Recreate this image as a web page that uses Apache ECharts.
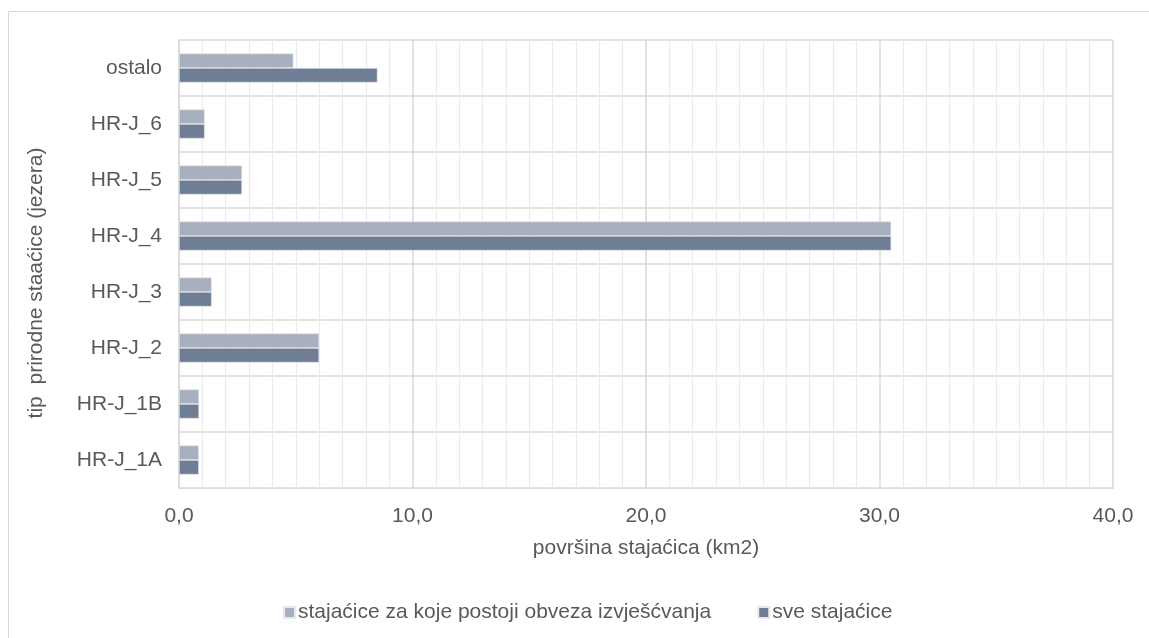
<!DOCTYPE html>
<html>
<head>
<meta charset="utf-8">
<script src="https://cdn.jsdelivr.net/npm/echarts@6/dist/echarts.min.js"></script>
<style>
html,body{margin:0;padding:0;background:#fff;}
#c{width:1149px;height:638px;}
</style>
</head>
<body>
<div id="c"></div>
<script>
const categories = ['HR-J_1A','HR-J_1B','HR-J_2','HR-J_3','HR-J_4','HR-J_5','HR-J_6','ostalo'];
const seriesNames = ['stajaćice za koje postoji obveza izvješćvanja','sve stajaćice'];
const reportingValues = [0.85, 0.86, 6.0, 1.4, 30.5, 2.7, 1.1, 4.9];
const allValues = [0.85, 0.86, 6.0, 1.4, 30.5, 2.7, 1.1, 8.5];
const xTitle = 'površina stajaćica (km2)';
const yTitle = 'tip  prirodne staaćice (jezera)';

const textColor = '#595959';
const font = 'Liberation Sans, Arial, sans-serif';
const fs = 21;
const chart = echarts.init(document.getElementById('c'));
chart.setOption({
  animation: false,
  textStyle: {fontFamily: font},
  graphic: [{type:'rect', shape:{x:8.5, y:11.5, width:1200, height:700}, style:{fill:'none', stroke:'#d9d9d9', lineWidth:1}, silent:true, z:-10}],
  grid: {left:179, right:36, top:40, bottom:150, containLabel:false},
  legend: {
    data: seriesNames,
    left: 278, top: 597,
    itemWidth: 11, itemHeight: 11, itemGap: 46,
    icon: 'rect',
    textStyle: {color: textColor, fontSize: fs, fontFamily: font, padding:[0,0,0,-2]}
  },
  xAxis: {
    type: 'value', min: 0, max: 40, interval: 10,
    name: xTitle, nameLocation: 'middle', nameGap: 50,
    nameTextStyle: {color: textColor, fontSize: fs, fontFamily: font},
    axisLine: {show: true, lineStyle: {color: '#d9d9d9'}},
    axisTick: {show: false},
    axisLabel: {color: textColor, fontSize: fs, margin: 18, fontFamily: font,
      formatter: v => v.toFixed(1).replace('.', ',')},
    splitLine: {show: true, lineStyle: {color: '#d9d9d9', width: 1.5}},
    minorTick: {show: false, splitNumber: 10},
    minorSplitLine: {show: true, lineStyle: {color: '#ebebeb', width: 1.2}}
  },
  yAxis: {
    type: 'category', data: categories,
    name: yTitle, nameLocation: 'middle', nameGap: 132,
    nameTextStyle: {color: textColor, fontSize: fs, fontFamily: font, padding: [0, 38, 0, 0]},
    axisLine: {show: true, lineStyle: {color: '#d9d9d9', width: 1.5}},
    axisTick: {show: false},
    axisLabel: {color: textColor, fontSize: fs, margin: 17, fontFamily: font},
    splitLine: {show: true, lineStyle: {color: '#d9d9d9', width: 1.5}}
  },
  series: [
    {name: seriesNames[0], type: 'bar', data: reportingValues, barGap: '0%', barCategoryGap: '48%',
     itemStyle: {color: '#a8b0c0', borderColor: '#e6e9ef', borderWidth: 0.6}},
    {name: seriesNames[1], type: 'bar', data: allValues, barGap: '0%', barCategoryGap: '48%',
     itemStyle: {color: '#6f7d95', borderColor: '#e6e9ef', borderWidth: 0.6}}
  ]
});
</script>
</body>
</html>
